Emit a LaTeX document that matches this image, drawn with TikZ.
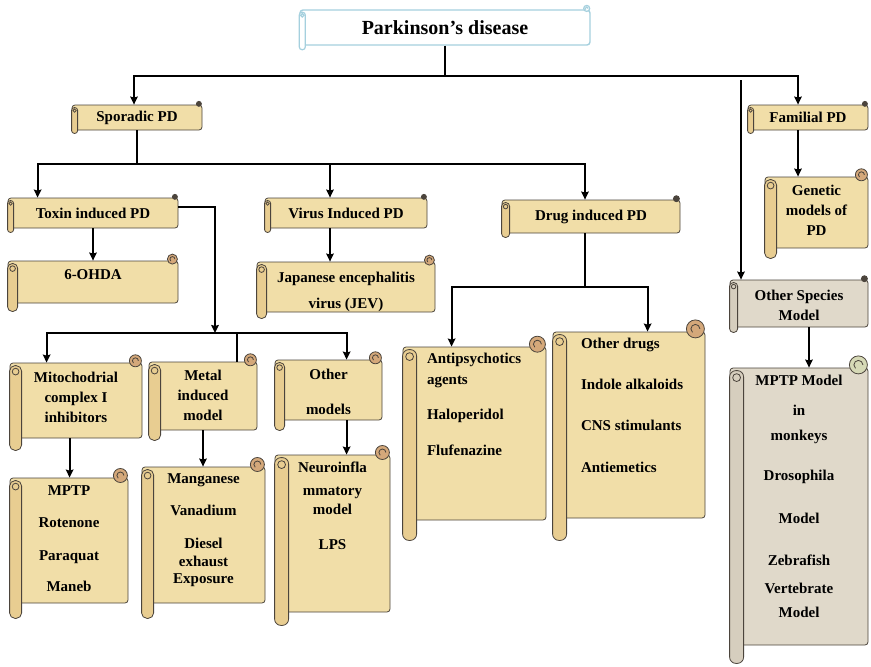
\documentclass[tikz,border=0pt]{standalone}
\usepackage{fontspec}
\setmainfont{Liberation Serif}
\usetikzlibrary{arrows.meta,calc,positioning}

\definecolor{parchment}{RGB}{241,222,168}
\definecolor{rollfill}{RGB}{232,205,145}
\definecolor{curltan}{RGB}{212,168,122}
\definecolor{scrollgray}{RGB}{224,217,202}
\definecolor{rollgray}{RGB}{214,206,190}
\definecolor{curlgreen}{RGB}{214,217,182}
\definecolor{edgegray}{RGB}{75,68,60}
\definecolor{titleblue}{RGB}{165,208,222}

% text block of a scroll: width, height, top gap, lines
\newcommand{\boxtext}[4]{\parbox[c][#2pt][t]{#1pt}{\vspace*{#3pt}\centering #4\par}}
\newcommand{\boxtextl}[5]{\parbox[c][#2pt][t]{#1pt}{\vspace*{#3pt}\raggedright\leftskip=#4pt #5\par}}

% roll on the left and curl on the top right of a scroll node
\newcommand{\scrolldeco}[7][]{%
  \draw[rimline,#1,fill=#6,rounded corners=#3*0.45pt] ($(#2.north west)+(0,3)$) rectangle ($(#2.south west)+(#3,#4)$);
  \draw[rimline,#1] ($(#2.north west)+(#3*0.5,3+#3*0.5)$) circle[radius=#3*0.28pt];
  \draw[rimline,#1,fill=#7] ($(#2.north east)+(-#5-1,-0.3*#5)$) circle[radius=#5pt];
  \draw[rimline,#1] ($(#2.north east)+(-#5*0.5-1,-0.3*#5)$) arc[start angle=0,end angle=230,radius=#5*0.5pt];
}

\begin{document}
\begin{tikzpicture}[x=1pt,y=-1pt,
    scrollbox/.style={draw=edgegray,line width=0.8pt,fill=parchment,rounded corners=3pt,inner sep=0pt,
      align=center,font=\fontsize{15}{17}\selectfont\bfseries},
    graybox/.style={scrollbox,fill=scrollgray},
    titlebox/.style={scrollbox,draw=titleblue,line width=1.4pt,fill=white,font=\fontsize{20}{22}\selectfont\bfseries},
    rimline/.style={draw=edgegray,line width=0.8pt},
    conn/.style={line width=2pt},
    arr/.style={line width=2pt,-{Stealth[length=8pt,width=7.5pt,inset=1pt]}}
  ]
  \useasboundingbox (0,0) rectangle (871,667);

  % heads
  \node[titlebox,minimum width=290pt,minimum height=35pt] (title) at (445,27.5) {Parkinson’s disease};
  \node[scrollbox,minimum width=130pt,minimum height=25pt] (sporadic) at (137,117.5) {Sporadic PD};
  \node[scrollbox,minimum width=120pt,minimum height=25pt] (familial) at (808,117.5) {Familial PD};
  \node[scrollbox,minimum width=170pt,minimum height=30pt] (toxin) at (93,213) {Toxin induced PD};
  \node[scrollbox,minimum width=162pt,minimum height=30pt] (virus) at (346,213) {Virus Induced PD};
  \node[scrollbox,minimum width=178pt,minimum height=33pt] (drug) at (591,216.5) {Drug induced PD};

  % scrolls
  \node[scrollbox] (ohda) at (93,282) {\boxtext{170}{42}{9}{6-OHDA}};
  \node[scrollbox] (jev) at (346,287) {\boxtext{178}{50}{10}{Japanese encephalitis\\[9pt]virus (JEV)}};
  \node[scrollbox] (mito) at (76,400.5) {\boxtext{132}{75}{9}{Mitochodrial\\[3pt]complex I\\[3pt]inhibitors}};
  \node[scrollbox] (metal) at (203,396) {\boxtext{108}{68}{8}{Metal\\[3pt]induced\\[3pt]model}};
  \node[scrollbox] (othermod) at (328.5,390) {\boxtext{107}{60}{9}{Other\\[18pt]models}};
  \node[scrollbox] (mptp) at (69,540.5) {\boxtext{118}{125}{8}{MPTP\\[15pt]Rotenone\\[16pt]Paraquat\\[14pt]Maneb}};
  \node[scrollbox] (mangan) at (203.5,535) {\boxtext{123}{136}{7}{Manganese\\[15pt]Vanadium\\[16pt]Diesel\\[1pt]exhaust\\[0pt]Exposure}};
  \node[scrollbox] (neuro) at (332.5,533.5) {\boxtext{115}{157}{7}{Neuroinfla\\[6pt]mmatory\\[2pt]model\\[18pt]LPS}};
  \node[scrollbox] (antipsy) at (474.5,433.5) {\boxtextl{143}{173}{6}{24}{Antipsychotics\\[4pt]agents\\[18pt]Haloperidol\\[19pt]Flufenazine}};
  \node[scrollbox] (otherdrug) at (629,425) {\boxtextl{152}{186}{6}{28}{Other drugs\\[24pt]Indole alkaloids\\[24pt]CNS stimulants\\[25pt]Antiemetics}};
  \node[scrollbox] (genetic) at (816.5,212.5) {\boxtext{103}{71}{8}{Genetic\\[3pt]models of\\[3pt]PD}};
  \node[graybox] (species) at (799,303.5) {\boxtext{138}{47}{10}{Other Species\\[3pt]Model}};
  \node[graybox] (monkey) at (799,506.5) {\boxtext{138}{277}{7}{MPTP Model\\[13pt]in\\[8pt]monkeys\\[23pt]Drosophila\\[26pt]Model\\[25pt]Zebrafish\\[11pt]Vertebrate\\[7pt]Model}};

  \scrolldeco[draw=titleblue,line width=1.2pt]{title}{6}{4}{3}{white}{white}
  \scrolldeco{sporadic}{6}{3}{2.5}{rollfill}{edgegray}
  \scrolldeco{familial}{6}{3}{2.5}{rollfill}{edgegray}
  \scrolldeco{toxin}{6}{4}{2.5}{rollfill}{edgegray}
  \scrolldeco{virus}{6}{4}{2.5}{rollfill}{edgegray}
  \scrolldeco{drug}{8}{4}{3}{rollfill}{edgegray}
  \scrolldeco{ohda}{10}{8}{5}{rollfill}{curltan}
  \scrolldeco{jev}{10}{6}{5}{rollfill}{curltan}
  \scrolldeco{mito}{12}{12}{6}{rollfill}{curltan}
  \scrolldeco{metal}{12}{10}{6}{rollfill}{curltan}
  \scrolldeco{othermod}{10}{10}{6}{rollfill}{curltan}
  \scrolldeco{mptp}{12}{15}{7}{rollfill}{curltan}
  \scrolldeco{mangan}{12}{15}{7}{rollfill}{curltan}
  \scrolldeco{neuro}{14}{13}{7}{rollfill}{curltan}
  \scrolldeco{antipsy}{14}{20}{8}{rollfill}{curltan}
  \scrolldeco{otherdrug}{14}{22}{9}{rollfill}{curltan}
  \scrolldeco{genetic}{12}{10}{6}{rollfill}{curltan}
  \scrolldeco{species}{8}{5}{3}{rollgray}{edgegray}
  \scrolldeco{monkey}{14}{18}{9}{rollgray}{curlgreen}

  % branch points
  \coordinate (splitA) at (445,76);
  \coordinate (speciesLine) at (741,80);
  \coordinate (splitB) at (137,164);
  \coordinate (splitC) at (215,333);
  \coordinate (splitD) at (585,287);

  \draw[conn] (title) -- (splitA);
  \draw[arr] (splitA) -| ([xshift=-3pt]sporadic.north);
  \draw[arr] (splitA) -| ([xshift=-10pt]familial.north);
  \draw[arr] (speciesLine) -- (speciesLine |- species.north);

  \draw[conn] (sporadic) -- (splitB);
  \draw[arr] (splitB) -| ([xshift=30pt]toxin.north west);
  \draw[arr] (splitB) -| ([xshift=-16pt]virus.north);
  \draw[arr] (splitB) -| ([xshift=-6pt]drug.north);

  \draw[arr] (toxin) -- (toxin |- ohda.north);
  \draw[arr] ([yshift=6pt]toxin.east) -| (splitC);
  \draw[arr] (splitC) -| ([xshift=37pt]mito.north west);
  \draw[conn] (splitC) -| ([xshift=88pt]metal.north west);
  \draw[arr] (splitC) -| ([xshift=72pt]othermod.north west);
  \draw[arr] ([xshift=-16pt]virus.south) -- ([xshift=-16pt]virus.south |- jev.north);

  \draw[arr] ([xshift=60pt]mito.south west) -- ([xshift=60pt]mito.south west |- mptp.north);
  \draw[arr] (metal) -- (metal |- mangan.north);
  \draw[arr] ([xshift=72pt]othermod.south west) -- ([xshift=72pt]othermod.south west |- neuro.north);

  \draw[conn] ([xshift=-6pt]drug.south) -- (splitD);
  \draw[arr] (splitD) -| ([xshift=49pt]antipsy.north west);
  \draw[arr] (splitD) -| ([xshift=95pt]otherdrug.north west);

  \draw[arr] ([xshift=-10pt]familial.south) -- ([xshift=-10pt]familial.south |- genetic.north);
  \draw[arr] ([xshift=10pt]species.south) -- ([xshift=10pt]species.south |- monkey.north);
\end{tikzpicture}
\end{document}
